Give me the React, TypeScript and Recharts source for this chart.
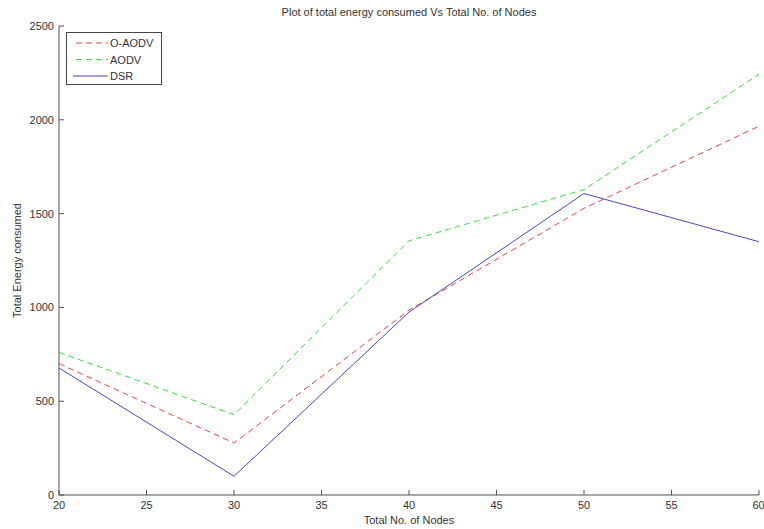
import React from "react";
import { LineChart, Line, XAxis, YAxis } from "recharts";

const nodes = [20, 30, 40, 50, 60];
const oAodv = [700, 277, 985, 1528, 1966];
const aodv = [760, 428, 1355, 1628, 2243];
const dsr = [677, 100, 975, 1607, 1350];

const xTicks = [20, 25, 30, 35, 40, 45, 50, 55, 60];
const yTicks = [0, 500, 1000, 1500, 2000, 2500];

const data = nodes.map((n, i) => ({
  nodes: n,
  oAodv: oAodv[i],
  aodv: aodv[i],
  dsr: dsr[i],
}));

const FONT = "'Liberation Sans', Arial, sans-serif";
const AXIS = "#505050";

const series = [
  { key: "oAodv", name: "O-AODV", color: "#e04646", dash: "6 4" },
  { key: "aodv", name: "AODV", color: "#3cdc3c", dash: "6 4" },
  { key: "dsr", name: "DSR", color: "#4646c8", dash: undefined },
];

const YLabel = (props: any) => {
  const vb = props.viewBox || {};
  const cy = vb.y + vb.height / 2;
  return (
    <text
      x={17}
      y={cy}
      transform={`rotate(-90 17 ${cy})`}
      textAnchor="middle"
      dominantBaseline="central"
      fontSize={11}
      fontFamily={FONT}
      fill="#333"
    >
      Total Energy consumed
    </text>
  );
};

const XLabel = (props: any) => {
  const vb = props.viewBox || {};
  return (
    <text
      x={vb.x + vb.width / 2}
      y={524}
      textAnchor="middle"
      fontSize={11}
      fontFamily={FONT}
      fill="#333"
    >
      Total No. of Nodes
    </text>
  );
};

// legend box drawn on top of the chart, like matlab's "legend" in the upper left
const LegendBox = () => (
  <svg
    width={97}
    height={54}
    style={{ position: "absolute", left: 66, top: 32, display: "block" }}
  >
    <rect x={0.5} y={0.5} width={95} height={52} fill="#fff" stroke="#444" />
    {series.map((s, i) => (
      <g key={s.key}>
        <line
          x1={s.dash ? 10 : 7}
          x2={42}
          y1={11 + i * 16.5}
          y2={11 + i * 16.5}
          stroke={s.color}
          strokeDasharray={s.dash}
        />
        <text
          x={44}
          y={11 + i * 16.5}
          dominantBaseline="central"
          fontSize={11}
          fontFamily={FONT}
          fill="#333"
        >
          {s.name}
        </text>
      </g>
    ))}
  </svg>
);

export default function App() {
  return (
    <div
      style={{
        position: "absolute",
        left: 0,
        top: 0,
        width: 764,
        height: 529,
        background: "#fff",
      }}
    >
      <div
        style={{
          position: "absolute",
          left: 59,
          width: 700,
          top: 6,
          textAlign: "center",
          fontFamily: FONT,
          fontSize: 11,
          color: "#333",
        }}
      >
        Plot of total energy consumed Vs Total No. of Nodes
      </div>
      <LineChart
        width={764}
        height={529}
        data={data}
        margin={{ top: 26, right: 5, bottom: 4, left: 0 }}
      >
        <XAxis
          dataKey="nodes"
          type="number"
          domain={[20, 60]}
          ticks={xTicks}
          tickSize={-5}
          tickMargin={11}
          height={30}
          stroke={AXIS}
          tick={{ fill: "#333", fontSize: 11, fontFamily: FONT }}
          label={<XLabel />}
        />
        <YAxis
          type="number"
          domain={[0, 2500]}
          ticks={yTicks}
          tickSize={-5}
          tickMargin={10}
          width={59}
          stroke={AXIS}
          tick={{ fill: "#333", fontSize: 11, fontFamily: FONT }}
          label={<YLabel />}
        />
        {series.map((s) => (
          <Line
            key={s.key}
            type="linear"
            dataKey={s.key}
            name={s.name}
            stroke={s.color}
            strokeWidth={1}
            strokeDasharray={s.dash}
            dot={false}
            activeDot={false}
            isAnimationActive={false}
          />
        ))}
      </LineChart>
      <LegendBox />
    </div>
  );
}
